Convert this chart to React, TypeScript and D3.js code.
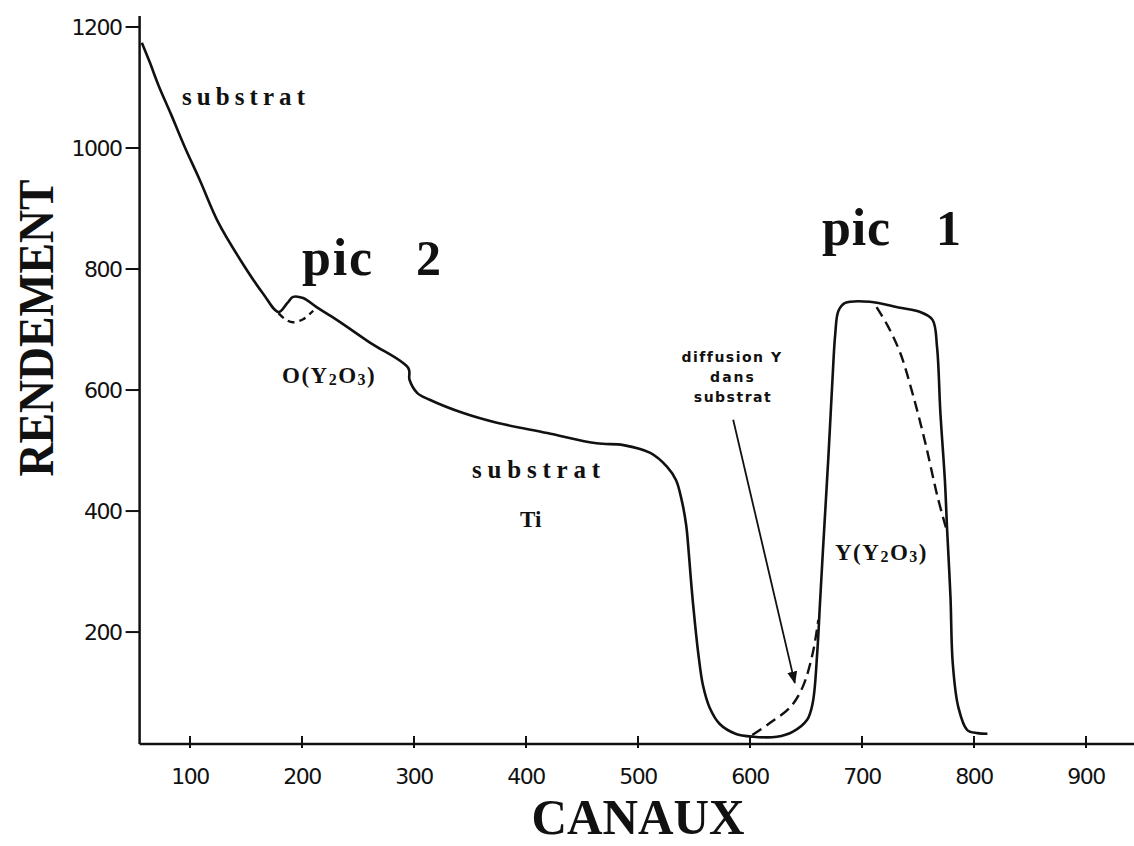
import React from "react";
import * as d3 from "d3";

// main spectrum (solid line): channel, yield
const mainCh = [57, 64, 72, 83, 95, 109, 125, 145, 165, 179, 187, 192, 201, 213, 231, 261, 295, 296, 303, 314, 344, 374, 419, 463, 487, 511, 526, 534, 539, 543, 545.5, 548, 551, 554, 558, 564, 573, 587, 603, 624, 638, 651, 656, 660, 662.5, 665, 667.5, 670, 672, 674, 676, 679, 685, 707, 734, 752, 763, 767, 770, 774, 776, 779, 781, 786, 794, 803, 812];
const mainVal = [1174, 1142, 1103, 1056, 1003, 946, 878, 815, 760, 729, 744, 754, 752, 737, 716, 678, 636, 617, 595, 584, 562, 546, 529, 512, 509, 496, 473, 451, 418, 377, 327, 270, 212, 162, 112, 75, 48, 32, 27, 27, 35, 55, 83, 165, 248, 331, 410, 490, 560, 630, 690, 731, 744, 746, 736, 729, 716, 671, 562, 451, 369, 258, 149, 76, 38, 33, 32];

// dashed: substrate under the oxygen peak
const oxyCh = [179, 185, 192, 201, 210];
const oxyVal = [727, 717, 712, 717, 731];

// dashed: pic 1 without the layer edge
const pic1Ch = [713, 723, 734, 745.5, 757, 767, 775];
const pic1Val = [737, 706, 662, 592, 509, 427, 372];

// dashed: Y diffusion into the substrate
const diffCh = [602, 618, 636, 647, 656, 661];
const diffVal = [30, 50, 76, 109, 165, 220];

// arrow pointing at the diffusion tail
const arrowCh = [585, 640];
const arrowVal = [551, 116];

const xTicks = [100, 200, 300, 400, 500, 600, 700, 800, 900];
const yTicks = [200, 400, 600, 800, 1000, 1200];

const W = 1134;
const H = 846;

export default function App() {
  const x = d3.scaleLinear().domain([600, 700]).range([750, 862]);
  const y = d3.scaleLinear().domain([15, 1200]).range([744, 27]);

  const line = d3
    .line<[number, number]>()
    .x((d) => x(d[0]))
    .y((d) => y(d[1]))
    .curve(d3.curveCatmullRom.alpha(0.5));

  const zip = (a: number[], b: number[]) => a.map((v, i) => [v, b[i]] as [number, number]);

  const x0 = x(55);
  const y0 = y(15);
  const tickFont = "'DejaVu Sans', sans-serif";
  const serif = "'Liberation Serif', 'DejaVu Serif', serif";

  return (
    <svg width={W} height={H} style={{ position: "absolute", left: 0, top: 0, background: "#fff" }}>
      <defs>
        <marker id="ah" viewBox="0 0 10 10" refX="9" refY="5" markerWidth="7" markerHeight="9" orient="auto">
          <path d="M0,1 L10,5 L0,9 Z" fill="#111" />
        </marker>
      </defs>

      {/* axes */}
      <line x1={x0} y1={y(1218)} x2={x0} y2={y0} stroke="#111" strokeWidth={2.5} />
      <line x1={x0} y1={y0} x2={W} y2={y0} stroke="#111" strokeWidth={2.5} />

      {yTicks.map((t) => (
        <g key={t}>
          <line x1={x0 - 14} x2={x0} y1={y(t)} y2={y(t)} stroke="#111" strokeWidth={2} />
          <text x={x0 - 18} y={y(t) + 8} textAnchor="end" fontFamily={tickFont} fontSize={22} letterSpacing={-1.5} fill="#111">
            {t}
          </text>
        </g>
      ))}
      {xTicks.map((t) => (
        <g key={t}>
          <line x1={x(t)} x2={x(t)} y1={y0 - 8} y2={y0 + 4} stroke="#111" strokeWidth={2} />
          <text x={x(t)} y={y0 + 40} textAnchor="middle" fontFamily={tickFont} fontSize={22} letterSpacing={-1.5} fill="#111">
            {t}
          </text>
        </g>
      ))}

      {/* curves */}
      <path d={line(zip(mainCh, mainVal)) || ""} fill="none" stroke="#111" strokeWidth={2.6} strokeLinejoin="round" />
      <path d={line(zip(oxyCh, oxyVal)) || ""} fill="none" stroke="#111" strokeWidth={2.4} strokeDasharray="7 5" />
      <path d={line(zip(pic1Ch, pic1Val)) || ""} fill="none" stroke="#111" strokeWidth={2.4} strokeDasharray="11 6" />
      <path d={line(zip(diffCh, diffVal)) || ""} fill="none" stroke="#111" strokeWidth={2.4} strokeDasharray="11 6" />
      <line
        x1={x(arrowCh[0])}
        y1={y(arrowVal[0])}
        x2={x(arrowCh[1])}
        y2={y(arrowVal[1])}
        stroke="#111"
        strokeWidth={1.8}
        markerEnd="url(#ah)"
      />

      {/* annotations */}
      <g fontFamily={serif} fontWeight="bold" fill="#111">
        <text x={182} y={105} fontSize={25} textLength={123} lengthAdjust="spacing">substrat</text>
        <text x={302} y={275} fontSize={52} textLength={70} lengthAdjust="spacing">pic</text>
        <text x={416} y={275} fontSize={50}>2</text>
        <text x={282} y={383} fontSize={23} letterSpacing={1.5}>
          O(Y<tspan fontSize={16} dy={2}>2</tspan><tspan dy={-2}>O</tspan><tspan fontSize={16} dy={2}>3</tspan><tspan dy={-2}>)</tspan>
        </text>
        <text x={472} y={478} fontSize={25} textLength={128} lengthAdjust="spacing">substrat</text>
        <text x={520} y={527} fontSize={23}>Ti</text>
        <text x={822} y={245} fontSize={52} textLength={68} lengthAdjust="spacing">pic</text>
        <text x={936} y={245} fontSize={50}>1</text>
        <text x={835} y={560} fontSize={23} letterSpacing={1.5}>
          Y(Y<tspan fontSize={16} dy={2}>2</tspan><tspan dy={-2}>O</tspan><tspan fontSize={16} dy={2}>3</tspan><tspan dy={-2}>)</tspan>
        </text>
        <text
          transform="translate(53,328) rotate(-90)"
          textAnchor="middle"
          fontSize={50}
          textLength={297}
          lengthAdjust="spacingAndGlyphs"
        >
          RENDEMENT
        </text>
        <text x={638} y={834} textAnchor="middle" fontSize={50} textLength={213} lengthAdjust="spacingAndGlyphs">
          CANAUX
        </text>
      </g>
      <g fontFamily="'DejaVu Sans', sans-serif" fontWeight="bold" fontSize={14} fill="#111" textAnchor="middle">
        <text x={732} y={362} letterSpacing={1.5}>diffusion  Y</text>
        <text x={733} y={382} letterSpacing={2}>dans</text>
        <text x={733} y={402} letterSpacing={1.5}>substrat</text>
      </g>
    </svg>
  );
}
